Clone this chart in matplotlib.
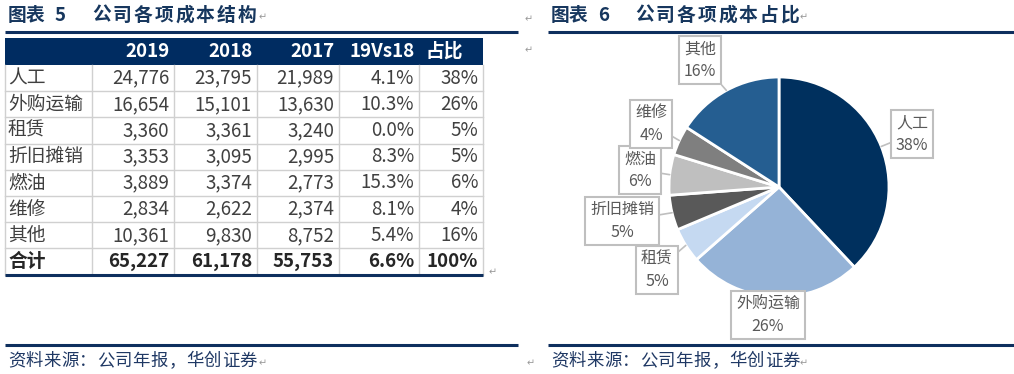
import matplotlib
matplotlib.use('Agg')
import matplotlib.pyplot as plt
from matplotlib.patches import Rectangle
import numpy as np

plt.rcParams['font.family'] = ['Noto Sans CJK SC', 'DejaVu Sans']

# data
items = ['人工', '外购运输', '租赁', '折旧摊销', '燃油', '维修', '其他']
cost_2019 = [24776, 16654, 3360, 3353, 3889, 2834, 10361]
cost_2018 = [23795, 15101, 3361, 3095, 3374, 2622, 9830]
cost_2017 = [21989, 13630, 3240, 2995, 2773, 2374, 8752]
growth = ['4.1%', '10.3%', '0.0%', '8.3%', '15.3%', '8.1%', '5.4%']
share = ['38%', '26%', '5%', '5%', '6%', '4%', '16%']
total_row = ['合计', '65,227', '61,178', '55,753', '6.6%', '100%']
header = ['', '2019', '2018', '2017', '19Vs18', '占比']

pie_colors = ['#00305E', '#95B3D7', '#C5D9F1', '#595959', '#BFBFBF', '#7F7F7F', '#255E91']

W, H = 1014, 374
NAVY = '#0E2F5E'
fig = plt.figure(figsize=(W / 100, H / 100), dpi=100)
ov = fig.add_axes([0, 0, 1, 1])
ov.set_xlim(0, W)
ov.set_ylim(H, 0)
ov.axis('off')


def spaced(x, y, s, step, **kw):
    # draw characters one by one with a fixed pitch (wide letter spacing of the source)
    for k, ch in enumerate(s):
        ov.text(x + k * step, y, ch, va='center', ha='left', **kw)


# titles, rules, sources
tkw = dict(fontsize=13.5, fontweight='bold', color='#17375E')
for x0, x1, num, name in [(5, 518, '5', '公司各项成本结构'), (548, 1014, '6', '公司各项成本占比')]:
    spaced(x0 + 3, 15, '图表', 18, **tkw)
    ov.text(x0 + 50, 15, num, va='center', ha='left', **tkw)
    spaced(x0 + 87, 15, name, 20.8, **tkw)
    ov.plot([x0, x1], [32, 32], color=NAVY, lw=2.2, solid_capstyle='butt')
    ov.plot([x0, x1], [345, 345], color=NAVY, lw=2.2, solid_capstyle='butt')
    spaced(x0 + 3, 361, '资料来源：公司年报，华创证券', 17.8, fontsize=12.5, color='#1F3864')

# paragraph marks
for px, py in [(259, 17), (800, 17), (525, 19), (525, 50), (489, 272), (259, 363), (527, 363), (800, 363)]:
    ov.text(px, py, '↵', fontsize=7, color='#999999', va='center')

# table
col_edges = [5, 92, 174, 257, 339, 419, 483]
top, head_h, row_h = 38, 27, 26.2
fs = 13.5
ov.add_patch(Rectangle((col_edges[0], top), col_edges[-1] - col_edges[0], head_h, color='#002C61', lw=0))
for j, h in enumerate(header):
    if not h:
        continue
    if h == '占比':
        ov.text(col_edges[j] + 6, top + head_h / 2, h, fontsize=fs, fontweight='bold', color='white', va='center', ha='left')
    else:
        ov.text(col_edges[j + 1] - 4, top + head_h / 2, h, fontsize=fs, fontweight='bold', color='white', va='center', ha='right')

rows = []
for i, it in enumerate(items):
    rows.append([it, f'{cost_2019[i]:,}', f'{cost_2018[i]:,}', f'{cost_2017[i]:,}', growth[i], share[i]])
rows.append(total_row)

y = top + head_h
for i, r in enumerate(rows):
    bold = i == len(rows) - 1
    cy = y + row_h / 2
    for j, v in enumerate(r):
        kw = dict(fontsize=fs, color='#262626' if bold else '#404040',
                  fontweight='bold' if bold else 'normal', va='center')
        if j == 0:
            ov.text(col_edges[0] + 3, cy, v, ha='left', **kw)
        else:
            ov.text(col_edges[j + 1] - 5, cy, v, ha='right', **kw)
    if not bold:
        ov.plot([col_edges[0], col_edges[-1]], [y + row_h, y + row_h], color='#D0D0D0', lw=1)
    y += row_h
bottom = y
for cx in col_edges:
    ov.plot([cx, cx], [top + head_h, bottom], color='#D0D0D0', lw=1)
ov.plot([col_edges[0], col_edges[-1]], [bottom, bottom], color=NAVY, lw=2.2, solid_capstyle='butt')

# pie
cx, cy, R = 779, 187, 110
pax = fig.add_axes([(cx - R) / W, (H - cy - R) / H, 2 * R / W, 2 * R / H])
wedges, _ = pax.pie(cost_2019, colors=pie_colors, startangle=90, counterclock=False,
                    wedgeprops=dict(edgecolor='white', linewidth=2))
pax.set_xlim(-1, 1)
pax.set_ylim(-1, 1)
pax.set_aspect('equal')
pax.axis('off')

total = sum(cost_2019)
label_pos = [(912, 134), (768, 315), (657, 270), (622, 221), (640, 170), (651, 124), (700, 60)]
for w, it, v, pos in zip(wedges, items, cost_2019, label_pos):
    ang = np.deg2rad((w.theta1 + w.theta2) / 2)
    pct = round(v / total * 100)
    pax.annotate(f'{it}\n{pct}%', xy=(np.cos(ang), np.sin(ang)), xycoords='data',
                 xytext=pos, textcoords=ov.transData, ha='center', va='center',
                 fontsize=11.5, color='#595959', linespacing=1.4, annotation_clip=False,
                 bbox=dict(boxstyle='square,pad=0.3', fc='white', ec='#BFBFBF', lw=1.5),
                 arrowprops=dict(arrowstyle='-', color='#BFBFBF', lw=1.2, shrinkA=0, shrinkB=0))

fig.savefig('out.png', dpi=100)
